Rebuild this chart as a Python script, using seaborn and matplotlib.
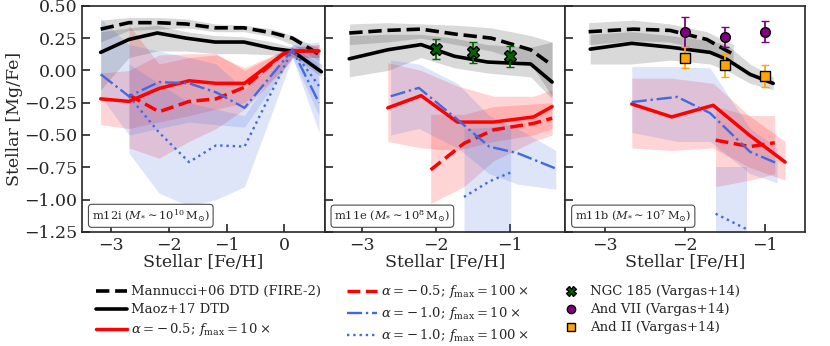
import numpy as np
import matplotlib
matplotlib.use("Agg")
import matplotlib.pyplot as plt
import seaborn as sns
from matplotlib.lines import Line2D
from matplotlib.ticker import MultipleLocator

# ---- data ----
panels = ["m12i", "m11e", "m11b"]
panel_labels = [r"m12i ($M_{*}\sim10^{10}\,\mathrm{M_{\odot}}$)",
                r"m11e ($M_{*}\sim10^{8}\,\mathrm{M_{\odot}}$)",
                r"m11b ($M_{*}\sim10^{7}\,\mathrm{M_{\odot}}$)"]
xlims = [(-3.5, 0.7), (-3.5, -0.25), (-3.5, -0.5)]

# m12i
m12i_man_x = [-3.18, -2.69, -2.2, -1.7, -1.2, -0.7, -0.2, 0.14, 0.6]
m12i_man_y = [0.32, 0.37, 0.37, 0.36, 0.33, 0.33, 0.29, 0.25, 0.125]
m12i_man_lo = [0.22, 0.31, 0.32, 0.33, 0.30, 0.30, 0.26, 0.20, 0.07]
m12i_man_hi = [0.39, 0.41, 0.41, 0.40, 0.36, 0.35, 0.32, 0.27, 0.17]
m12i_maoz_x = [-3.18, -2.69, -2.2, -1.7, -1.2, -0.7, -0.2, 0.14, 0.64]
m12i_maoz_y = [0.14, 0.24, 0.29, 0.25, 0.22, 0.22, 0.17, 0.15, -0.01]
m12i_maoz_lo = [-0.15, 0.10, 0.15, 0.15, 0.13, 0.13, 0.12, 0.11, -0.05]
m12i_maoz_hi = [0.30, 0.33, 0.35, 0.30, 0.27, 0.26, 0.22, 0.18, 0.05]
m12i_r10_x = [-3.18, -2.69, -2.17, -1.65, -1.18, -0.69, -0.03, 0.14, 0.6]
m12i_r10_y = [-0.22, -0.24, -0.14, -0.08, -0.10, -0.10, 0.125, 0.15, 0.15]
m12i_r10_lo = [-0.42, -0.45, -0.40, -0.35, -0.30, -0.25, 0.0, 0.10, 0.10]
m12i_r10_hi = [-0.02, 0.0, 0.12, 0.13, 0.13, 0.0, 0.15, 0.18, 0.20]
m12i_r100_x = [-2.69, -2.17, -1.65, -1.18, -0.69, -0.03, 0.14, 0.6]
m12i_r100_y = [-0.19, -0.32, -0.24, -0.22, -0.13, 0.125, 0.15, 0.15]
m12i_r100_lo = [-0.60, -0.68, -0.55, -0.45, -0.30, 0.0, 0.10, 0.10]
m12i_r100_hi = [0.35, 0.05, 0.10, 0.12, 0.02, 0.15, 0.18, 0.20]
m12i_b10_x = [-3.18, -2.69, -2.17, -1.65, -1.18, -0.69, 0.14, 0.6]
m12i_b10_y = [-0.03, -0.20, -0.09, -0.10, -0.17, -0.29, 0.16, -0.25]
m12i_b10_lo = [-0.20, -0.50, -0.45, -0.40, -0.42, -0.44, 0.10, -0.48]
m12i_b10_hi = [0.40, 0.20, 0.15, 0.10, 0.05, -0.15, 0.20, 0.22]
m12i_b100_x = [-2.69, -2.17, -1.65, -1.18, -0.69, 0.14, 0.6]
m12i_b100_y = [-0.20, -0.48, -0.71, -0.58, -0.59, 0.16, -0.12]
m12i_b100_lo = [-0.64, -0.95, -1.05, -1.00, -0.90, 0.10, -0.35]
m12i_b100_hi = [0.05, -0.10, -0.25, -0.30, -0.35, 0.20, 0.15]

# m11e
m11e_man_x = [-3.17, -2.67, -2.2, -1.72, -1.25, -0.72, -0.43]
m11e_man_y = [0.29, 0.31, 0.32, 0.28, 0.25, 0.16, 0.04]
m11e_man_lo = [0.20, 0.22, 0.25, 0.20, 0.15, 0.05, -0.20]
m11e_man_hi = [0.36, 0.37, 0.36, 0.35, 0.33, 0.27, 0.22]
m11e_maoz_x = [-3.17, -2.65, -2.2, -1.75, -1.3, -0.72, -0.43]
m11e_maoz_y = [0.09, 0.16, 0.20, 0.11, 0.065, 0.05, -0.09]
m11e_maoz_lo = [-0.05, 0.0, 0.10, 0.02, -0.02, -0.05, -0.22]
m11e_maoz_hi = [0.27, 0.28, 0.28, 0.25, 0.20, 0.18, 0.22]
m11e_r10_x = [-2.65, -2.2, -1.71, -1.22, -0.68, -0.43]
m11e_r10_y = [-0.29, -0.195, -0.40, -0.40, -0.36, -0.28]
m11e_r10_lo = [-0.55, -0.60, -0.62, -0.55, -0.50, -0.45]
m11e_r10_hi = [0.06, 0.0, -0.12, -0.20, -0.20, -0.15]
m11e_r100_x = [-2.07, -1.62, -1.22, -0.68, -0.43]
m11e_r100_y = [-0.77, -0.565, -0.46, -0.41, -0.37]
m11e_r100_lo = [-1.03, -0.90, -0.70, -0.55, -0.50]
m11e_r100_hi = [-0.34, -0.34, -0.28, -0.26, -0.25]
m11e_b10_x = [-2.61, -2.23, -1.71, -1.28, -0.9, -0.38]
m11e_b10_y = [-0.20, -0.135, -0.38, -0.59, -0.64, -0.76]
m11e_b10_lo = [-0.50, -0.45, -0.60, -0.80, -0.88, -0.92]
m11e_b10_hi = [0.08, 0.05, -0.10, -0.35, -0.45, -0.62]
m11e_b100_x = [-1.62, -1.28, -0.99]
m11e_b100_y = [-0.98, -0.86, -0.79]
m11e_b100_lo = [-1.40, -1.40, -1.40]
m11e_b100_hi = [-0.45, -0.44, -0.42]

# m11b
m11b_man_x = [-3.21, -2.65, -2.19, -1.73, -1.4]
m11b_man_y = [0.30, 0.32, 0.31, 0.24, 0.125]
m11b_man_lo = [0.20, 0.23, 0.22, 0.15, 0.08]
m11b_man_hi = [0.37, 0.39, 0.36, 0.30, 0.20]
m11b_maoz_x = [-3.19, -2.67, -2.19, -1.69, -1.48, -1.19, -0.9]
m11b_maoz_y = [0.165, 0.21, 0.18, 0.14, 0.086, -0.03, -0.10]
m11b_maoz_lo = [0.05, 0.05, 0.08, 0.05, 0.0, -0.10, -0.15]
m11b_maoz_hi = [0.28, 0.30, 0.27, 0.23, 0.20, 0.05, -0.05]
m11b_r10_x = [-2.67, -2.17, -1.65, -1.2, -0.75]
m11b_r10_y = [-0.26, -0.36, -0.27, -0.50, -0.71]
m11b_r10_lo = [-0.60, -0.62, -0.60, -0.75, -0.85]
m11b_r10_hi = [-0.06, -0.06, -0.10, -0.35, -0.55]
m11b_r100_x = [-1.62, -1.19, -0.88]
m11b_r100_y = [-0.54, -0.59, -0.56]
m11b_r100_lo = [-0.90, -0.85, -0.80]
m11b_r100_hi = [-0.28, -0.35, -0.35]
m11b_b10_x = [-2.67, -2.1, -1.69, -1.19, -0.85]
m11b_b10_y = [-0.245, -0.205, -0.33, -0.63, -0.72]
m11b_b10_lo = [-0.48, -0.55, -0.55, -0.80, -0.87]
m11b_b10_hi = [0.03, 0.03, 0.02, -0.45, -0.60]
m11b_b100_x = [-1.62, -1.23]
m11b_b100_y = [-1.11, -1.23]
m11b_b100_lo = [-1.40, -1.40]
m11b_b100_hi = [-0.75, -0.75]

# observations (Vargas+14)
obs_feh = [-2.0, -1.5, -1.0]
ngc185_mgfe = [0.165, 0.14, 0.11]
ngc185_err = [0.08, 0.08, 0.08]
andvii_mgfe = [0.30, 0.26, 0.30]
andvii_err = [0.115, 0.08, 0.08]
andii_mgfe = [0.10, 0.04, -0.045]
andii_err = [0.08, 0.09, 0.085]

labels = ["Mannucci+06 DTD (FIRE-2)", "Maoz+17 DTD",
          r"$\alpha = -\,0.5$; $f_{\rm max} = 10\times$",
          r"$\alpha = -\,0.5$; $f_{\rm max} = 100\times$",
          r"$\alpha = -\,1.0$; $f_{\rm max} = 10\times$",
          r"$\alpha = -\,1.0$; $f_{\rm max} = 100\times$",
          "NGC 185 (Vargas+14)", "And VII (Vargas+14)", "And II (Vargas+14)"]

# ---- styling ----
sns.set_style("ticks")
plt.rcParams["font.family"] = ["DejaVu Serif"]
plt.rcParams["mathtext.fontset"] = "dejavuserif"
plt.rcParams["font.size"] = 9.5

styles = {
    "man": dict(color="k", ls="--", lw=2.6, band="k"),
    "maoz": dict(color="k", ls="-", lw=2.6, band="k"),
    "r10": dict(color="red", ls="-", lw=2.5, band="red"),
    "r100": dict(color="red", ls="--", lw=2.5, band="red"),
    "b10": dict(color="royalblue", ls="-.", lw=1.7, band="royalblue"),
    "b100": dict(color="royalblue", ls=":", lw=1.7, band="royalblue"),
}
g = globals()

fig, axes = plt.subplots(1, 3, figsize=(8.3, 3.46), dpi=100, sharey=True,
                         gridspec_kw=dict(width_ratios=[243, 241, 240]))
fig.subplots_adjust(left=0.099, right=0.97, top=0.983, bottom=0.33, wspace=0)

for i, (ax, p) in enumerate(zip(axes, panels)):
    for key in ["man", "maoz", "r10", "r100", "b10", "b100"]:
        st = styles[key]
        x = g[f"{p}_{key}_x"]
        y = g[f"{p}_{key}_y"]
        ax.fill_between(x, g[f"{p}_{key}_lo"], g[f"{p}_{key}_hi"],
                        color=st["band"], alpha=0.15 if st["band"] == "k" else 0.17,
                        lw=0)
        sns.lineplot(x=x, y=y, ax=ax, color=st["color"], linestyle=st["ls"],
                     lw=st["lw"], sort=False, estimator=None)
    if p == "m11e":
        ax.errorbar(obs_feh, ngc185_mgfe, yerr=ngc185_err, fmt="X", ms=8,
                    mfc="darkgreen", mec="k", color="darkgreen", capsize=3,
                    elinewidth=1.3, zorder=5)
    if p == "m11b":
        ax.errorbar(obs_feh, andvii_mgfe, yerr=andvii_err, fmt="o", ms=7,
                    mfc="purple", mec="k", color="purple", capsize=3,
                    elinewidth=1.3, zorder=5)
        ax.errorbar(obs_feh, andii_mgfe, yerr=andii_err, fmt="s", ms=7,
                    mfc="orange", mec="k", color="orange", capsize=3,
                    elinewidth=1.3, zorder=5)
    ax.set_xlim(*xlims[i])
    ax.set_ylim(-1.25, 0.5)
    ax.xaxis.set_major_locator(MultipleLocator(1))
    ax.yaxis.set_major_locator(MultipleLocator(0.25))
    ax.tick_params(direction="in", length=6, width=1.2, labelsize=12.5)
    for s in ax.spines.values():
        s.set_linewidth(1.2)
    ax.set_xlabel("Stellar [Fe/H]", fontsize=12.5, labelpad=0)
    ax.text(0.04, 0.035, panel_labels[i], transform=ax.transAxes, fontsize=8.2,
            va="bottom", ha="left",
            bbox=dict(boxstyle="round,pad=0.3", fc="white", ec="0.3", lw=0.8))

axes[0].set_ylabel("Stellar [Mg/Fe]", fontsize=12.5, labelpad=1)

handles = [
    Line2D([], [], color="k", ls="--", lw=2.6),
    Line2D([], [], color="k", ls="-", lw=2.6),
    Line2D([], [], color="red", ls="-", lw=2.5),
    Line2D([], [], color="red", ls="--", lw=2.5),
    Line2D([], [], color="royalblue", ls="-.", lw=1.7),
    Line2D([], [], color="royalblue", ls=":", lw=1.7),
    Line2D([], [], ls="none", marker="X", ms=7, mfc="darkgreen", mec="k"),
    Line2D([], [], ls="none", marker="o", ms=6, mfc="purple", mec="k"),
    Line2D([], [], ls="none", marker="s", ms=6, mfc="orange", mec="k"),
]
fig.legend(handles, labels, ncol=3, loc="upper center",
           bbox_to_anchor=(0.504, 0.216), frameon=False, fontsize=9.5,
           handlelength=2.3, handletextpad=0.3, columnspacing=2.0,
           labelspacing=0.38)

fig.savefig("out.png", dpi=100)
